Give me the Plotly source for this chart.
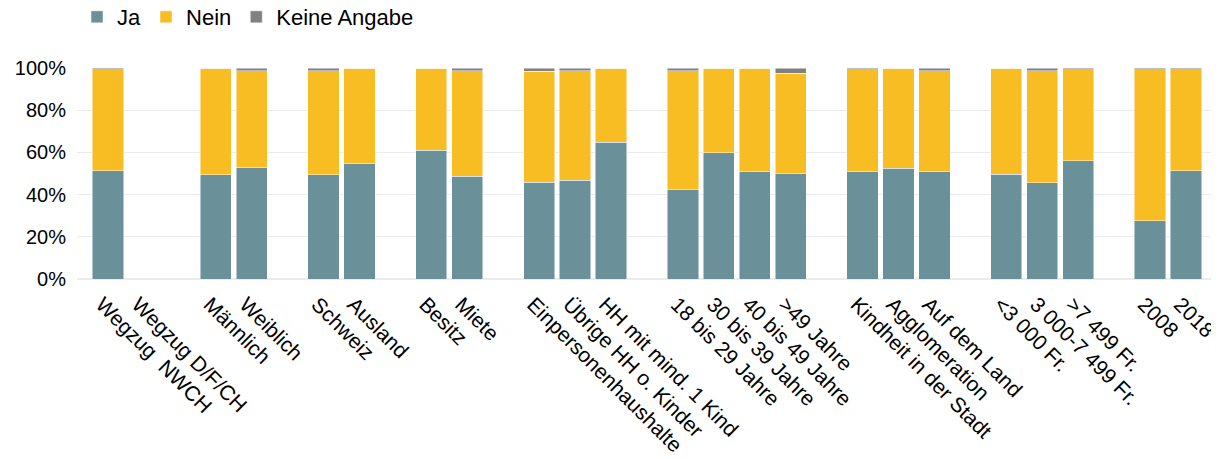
import plotly.graph_objects as go

categories = ["Wegzug  NWCH", "Wegzug D/F/CH", " ",
              "Männlich", "Weiblich", "  ",
              "Schweiz", "Ausland", "   ",
              "Besitz", "Miete", "    ",
              "Einpersonenhaushalte", "Übrige HH o. Kinder", "HH mit mind. 1 Kind", "     ",
              "18 bis 29 Jahre", "30 bis 39 Jahre", "40 bis 49 Jahre", ">49 Jahre", "      ",
              "Kindheit in der Stadt", "Agglomeration", "Auf dem Land", "       ",
              "<3 000 Fr.", "3 000-7 499 Fr.", ">7 499 Fr.", "        ",
              "2008", "2018"]

ja = [51.4, None, None,
      49.4, 52.8, None,
      49.5, 54.6, None,
      61.0, 48.6, None,
      45.9, 46.9, 64.8, None,
      42.3, 59.8, 50.8, 50.2, None,
      50.8, 52.4, 51.1, None,
      49.7, 45.6, 56.0, None,
      27.6, 51.4]

nein = [47.7, None, None,
        50.6, 45.9, None,
        49.1, 45.4, None,
        39.0, 50.1, None,
        52.5, 51.8, 35.2, None,
        56.4, 40.2, 49.2, 47.3, None,
        48.3, 47.6, 47.6, None,
        50.3, 53.1, 43.2, None,
        71.5, 47.7]

keine = [0.9, None, None,
         0.0, 1.3, None,
         1.4, 0.0, None,
         0.0, 1.3, None,
         1.6, 1.3, 0.0, None,
         1.3, 0.0, 0.0, 2.5, None,
         0.9, 0.0, 1.3, None,
         0.0, 1.3, 0.8, None,
         0.9, 0.9]

y_ticks = [0, 20, 40, 60, 80, 100]
y_tick_labels = ["0%", "20%", "40%", "60%", "80%", "100%"]

series = [("Ja", ja, "#6A9199"), ("Nein", nein, "#F9BD24"), ("Keine Angabe", keine, "#808080")]

FONT = "Arial, Liberation Sans, sans-serif"

fig = go.Figure()
for name, vals, col in series:
    fig.add_trace(go.Bar(
        x=categories, y=vals, name=name,
        marker=dict(color=col, line=dict(color="rgba(255,255,255,0.6)", width=0.8)),
    ))

# the page body adds an 8px offset; the figure fills the rest of the window
fig.update_layout(
    barmode="stack",
    bargap=0.13,
    width=1211, height=451,
    margin=dict(l=69, r=5, t=60, b=180),
    plot_bgcolor="white", paper_bgcolor="white",
    font=dict(family=FONT, size=20, color="#000000"),
    legend=dict(orientation="h", xref="container", yref="container",
                x=0.057, xanchor="left", y=0.98, yanchor="middle",
                traceorder="normal",
                font=dict(size=22), itemclick=False),
    showlegend=True,
)
fig.update_xaxes(type="category", range=[-0.86, 30.78], tickangle=45, automargin=False,
                 tickfont=dict(size=21), showgrid=False, showline=False, ticks="",
                 ticklabelshift=-6, ticklabelstandoff=8)
fig.update_yaxes(range=[0, 100], tickmode="array", tickvals=y_ticks, ticktext=y_tick_labels,
                 automargin=False,
                 tickfont=dict(size=20), showgrid=True, gridcolor="#EBEBEB", gridwidth=1,
                 zeroline=True, zerolinecolor="#EBEBEB", showline=False, ticklabelstandoff=10)

fig.write_html("out.html")
